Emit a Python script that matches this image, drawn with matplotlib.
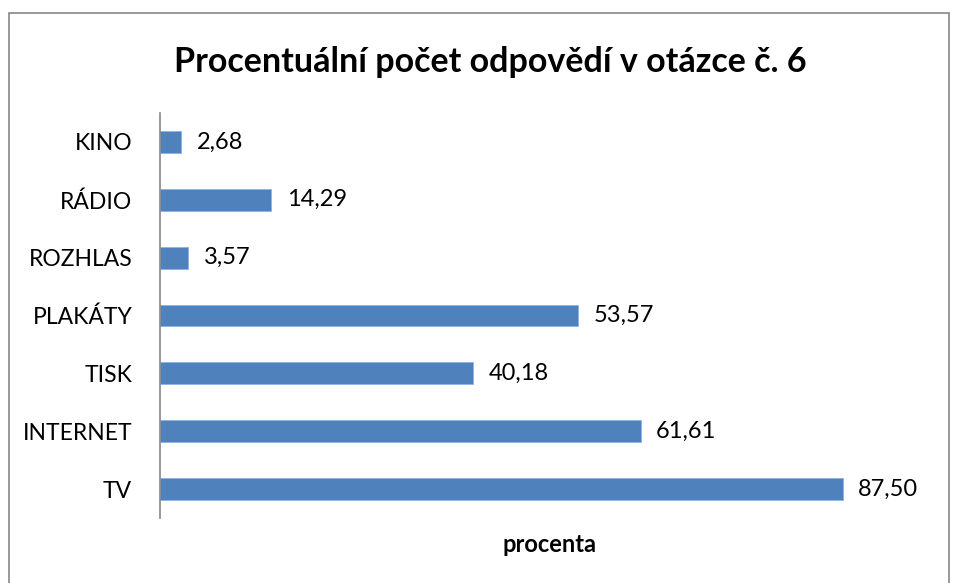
import matplotlib
matplotlib.use("Agg")
import matplotlib.pyplot as plt
from matplotlib.patches import Rectangle

categories = ["TV", "INTERNET", "TISK", "PLAKÁTY", "ROZHLAS", "RÁDIO", "KINO"]
values = [87.50, 61.61, 40.18, 53.57, 3.57, 14.29, 2.68]
title = "Procentuální počet odpovědí v otázce č. 6"
xlabel = "procenta"

plt.rcParams['font.family'] = ['Lato', 'DejaVu Sans']

W, H = 957, 583
fig = plt.figure(figsize=(W/100, H/100), dpi=100)
fig.patches.append(Rectangle((9/W, -0.01), (949-9)/W, (H-13)/H + 0.01, transform=fig.transFigure,
                             fill=False, edgecolor='#878787', linewidth=1.2, clip_on=False))

left, right, top, bottom = 160/W, 940/W, 1 - 113/H, 1 - 518/H
ax = fig.add_axes([left, bottom, right - left, top - bottom])
y = list(range(len(categories)))
ax.barh(y, values, height=0.38, color='#4F81BD', edgecolor='#8EB4E3', linewidth=0.6)
for yi, v in zip(y, values):
    ax.text(v + 2.0, yi, f"{v:.2f}".replace('.', ','), va='center', ha='left', fontsize=17)
ax.set_xlim(0, 100)
ax.set_ylim(-0.5, len(categories) - 0.5)
ax.set_yticks(y)
ax.set_yticklabels(categories, fontsize=16.5)
ax.tick_params(axis='y', length=0, pad=20)
ax.set_xticks([])
for s in ['top', 'right', 'bottom']:
    ax.spines[s].set_visible(False)
ax.spines['left'].set_color('#868686')
ax.spines['left'].set_linewidth(1.2)
fig.text(549/W, 1 - 545/H, xlabel, ha='center', va='center', fontsize=17, fontweight='bold')
fig.text(490/W, 1 - 62/H, title, ha='center', va='center', fontsize=24.5, fontweight='bold')
fig.savefig("out.png", dpi=100)
